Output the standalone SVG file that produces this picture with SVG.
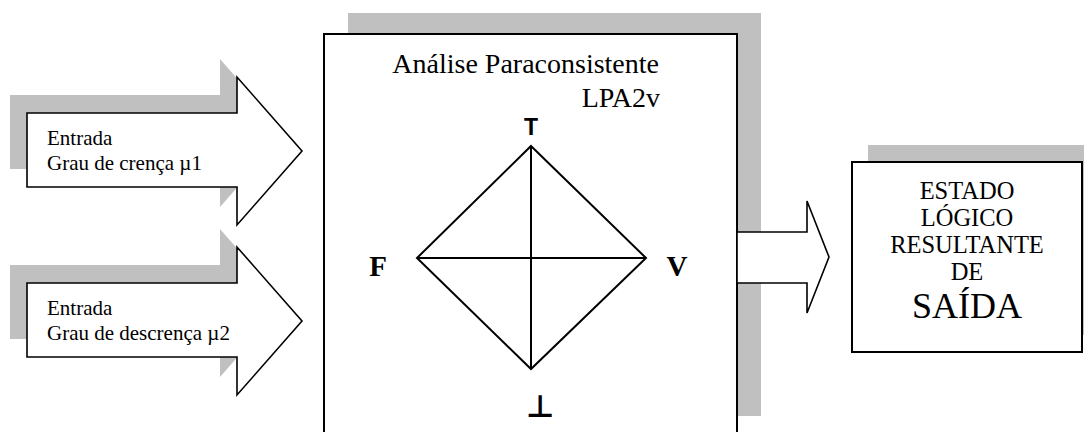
<svg xmlns="http://www.w3.org/2000/svg" width="1084" height="432" viewBox="0 0 1084 432">
<style>
.sh{fill:#C0C0C0;stroke:none}
.sh-arrow{fill:#C0C0C0;stroke:none}
.box{fill:#fff;stroke:#000;stroke-width:2}
.arrow{fill:#fff;stroke:#000;stroke-width:1.6;stroke-linejoin:miter}
.ln{stroke:#000;stroke-width:2;fill:none}
.serif{font-family:"Liberation Serif","Times New Roman",serif;fill:#000}
.in{font-size:21px}
.out{font-size:24.5px;text-anchor:middle}
</style>
<defs>
<polygon id="arrowShape" points="27,113 237,113 237,77 302,151 237,225 237,187 27,187"/>
</defs>
<rect width="1084" height="432" fill="#fff"/>

<g id="main-box">
<rect class="sh" x="348" y="13" width="413" height="403"/>
<rect class="box" x="324" y="34" width="413" height="410"/>
<text class="serif" x="659" y="73" font-size="28" text-anchor="end">Análise Paraconsistente</text>
<text class="serif" x="660" y="107" font-size="28" text-anchor="end">LPA2v</text>
</g>

<g id="lattice">
<polygon class="ln" points="531,146 646,258 531,369 417,258"/>
<line class="ln" x1="531" y1="146" x2="531" y2="369"/>
<line class="ln" x1="417" y1="258" x2="646" y2="258"/>
</g>
<g id="label-T"><text x="531" y="135" font-family="Liberation Sans, Arial, sans-serif" font-weight="bold" font-size="23" text-anchor="middle">T</text></g>
<g id="label-F"><text class="serif" x="378" y="276" font-weight="bold" font-size="29" text-anchor="middle">F</text></g>
<g id="label-V"><text class="serif" x="677" y="276" font-weight="bold" font-size="29" text-anchor="middle">V</text></g>
<g id="label-bottom"><text x="540" y="417" font-family="DejaVu Sans, sans-serif" font-weight="bold" font-size="31" text-anchor="middle">⊥</text></g>

<g id="input1">
<use href="#arrowShape" class="sh-arrow" transform="translate(-17,-18)"/>
<use href="#arrowShape" class="arrow"/>
<text class="serif in" x="47" y="145">Entrada</text>
<text class="serif in" x="47" y="170">Grau de crença µ1</text>
</g>

<g id="input2">
<use href="#arrowShape" class="sh-arrow" transform="translate(-17,152)"/>
<use href="#arrowShape" class="arrow" transform="translate(0,170)"/>
<text class="serif in" x="47" y="315">Entrada</text>
<text class="serif in" x="47" y="340">Grau de descrença µ2</text>
</g>

<g id="connectors">
<polygon class="arrow" points="737,232 807,232 807,201 829,257 807,313 807,283 737,283"/>
</g>

<g id="output-box">
<rect class="sh" x="868" y="145" width="230" height="190"/>
<rect class="box" x="852" y="162" width="230" height="190"/>
<text class="serif out" x="967" y="199">ESTADO</text>
<text class="serif out" x="967" y="226">LÓGICO</text>
<text class="serif out" x="967" y="253">RESULTANTE</text>
<text class="serif out" x="967" y="280">DE</text>
<text class="serif" x="967" y="318" font-size="36" text-anchor="middle">SAÍDA</text>
</g>
</svg>
